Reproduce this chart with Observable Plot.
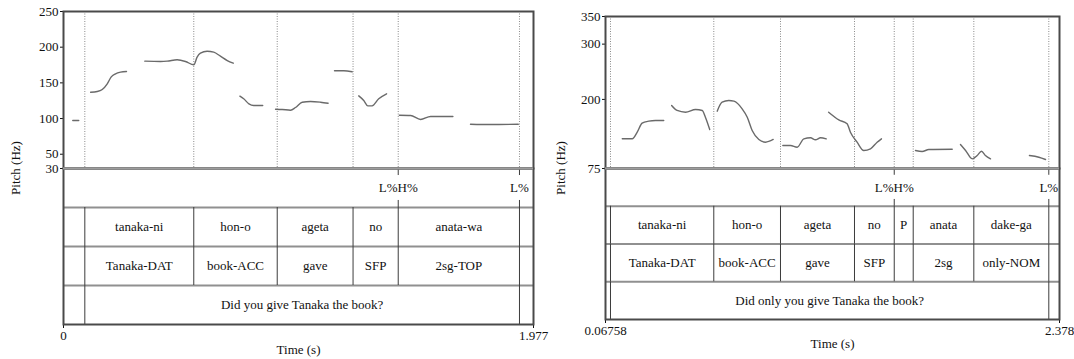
<!DOCTYPE html>
<html><head><meta charset="utf-8">
<script src="https://cdn.jsdelivr.net/npm/d3@7"></script>
<script src="https://cdn.jsdelivr.net/npm/@observablehq/plot@0.6"></script>
<style>
body{margin:0;background:#fff;}
#wrap{position:relative;width:1074px;height:359px;overflow:hidden;font-family:"Liberation Serif",serif;}
.panel{position:absolute;top:0;height:359px;}
.panel svg{position:absolute;left:0;}
.ylab{position:absolute;width:120px;height:16px;line-height:16px;text-align:center;font-size:13px;transform:rotate(-90deg);color:#111;white-space:nowrap;}
</style></head><body><div id="wrap"></div>
<script>
// ---------- LEFT PANEL DATA ----------
const leftXDomain = [0, 1.977];
const leftXTickLabels = ["0", "1.977"];
const leftYDomain = [30, 250];
const leftYTicks = [30, 50, 100, 150, 200, 250];
const leftBounds = [0.0897, 0.548, 0.899, 1.218, 1.408, 1.918];
const leftWords = ["tanaka-ni", "hon-o", "ageta", "no", "anata-wa"];
const leftGloss = ["Tanaka-DAT", "book-ACC", "gave", "SFP", "2sg-TOP"];
const leftTransBounds = [0.0897, 1.918];
const leftTrans = "Did you give Tanaka the book?";
const leftTonePoints = [1.408, 1.918];
const leftToneLabels = ["L%H%", "L%"];
const leftPitch = [
  [[0.039,97.3],[0.064,97.3]],
  [[0.114,136.9],[0.142,137.9],[0.163,140.7],[0.184,148.7],[0.200,158],[0.219,162.7],[0.240,165],[0.265,165.9]],
  [[0.342,180.4],[0.408,180],[0.436,180.4],[0.478,182.3],[0.513,180],[0.548,175.3],[0.562,186],[0.576,191.6],[0.604,194.4],[0.632,193],[0.660,187.4],[0.689,181.3],[0.714,177.6]],
  [[0.742,131.3],[0.758,127.7],[0.780,120.6],[0.800,118.3],[0.838,118.3]],
  [[0.892,113.1],[0.920,112.7],[0.955,111.7],[0.976,115.5],[1.004,122.9],[1.039,123.9],[1.081,122.9],[1.113,121.5]],
  [[1.140,166.9],[1.179,166.9],[1.214,165.5]],
  [[1.242,131.8],[1.263,125.3],[1.280,117.8],[1.298,117.8],[1.326,127.7],[1.359,134.7]],
  [[1.413,104.7],[1.460,104.3],[1.502,98.7],[1.544,102.9],[1.638,102.9]],
  [[1.712,92.1],[1.796,91.6],[1.913,92.1]]
];

// ---------- RIGHT PANEL DATA ----------
const rightXDomain = [0.06758, 2.378];
const rightXTickLabels = ["0.06758", "2.378"];
const rightYDomain = [75, 350];
const rightYTicks = [75, 200, 300, 350];
const rightBounds = [0.0930, 0.6187, 0.9581, 1.3347, 1.537, 1.6335, 1.942, 2.3236];
const rightWords = ["tanaka-ni", "hon-o", "ageta", "no", "P", "anata", "dake-ga"];
const rightGloss = ["Tanaka-DAT", "book-ACC", "gave", "SFP", "", "2sg", "only-NOM"];
const rightTransBounds = [0.0930, 2.3236];
const rightTrans = "Did only you give Tanaka the book?";
const rightTonePoints = [1.537, 2.3236];
const rightToneLabels = ["L%H%", "L%"];
const rightPitch = [
  [[0.153,128.7],[0.204,128.7],[0.229,140.7],[0.254,157],[0.288,160.6],[0.322,161.8],[0.364,161.8]],
  [[0.404,189],[0.432,180],[0.475,176.9],[0.526,181.7],[0.560,180],[0.576,167.8],[0.598,145.5]],
  [[0.636,178.7],[0.661,195],[0.695,198],[0.721,196.8],[0.763,183],[0.789,167.8],[0.814,143.7],[0.848,127.5],[0.882,122.6],[0.921,127.5]],
  [[0.970,116.6],[1.009,116.6],[1.043,113.5],[1.077,128.7],[1.111,130.5],[1.136,126.9],[1.162,130.5],[1.191,128.7]],
  [[1.203,176.9],[1.255,163],[1.297,155.8],[1.314,140.7],[1.348,122.6],[1.382,107.6],[1.416,110.6],[1.450,122.6],[1.472,128.7]],
  [[1.645,107.6],[1.679,105.7],[1.713,109.4],[1.832,109.9]],
  [[1.874,118.4],[1.900,107.6],[1.934,92.5],[1.959,98.5],[1.981,106.3],[2.001,98.5],[2.027,92.5]],
  [[2.225,98.5],[2.273,95.4],[2.307,91.3]]
];

const xAxisTitle = "Time (s)";
const yAxisTitle = "Pitch (Hz)";

// ---------- DRAWING ----------
const wrap = document.getElementById("wrap");
const baseStyle = {fontFamily: '"Liberation Serif", serif', fontSize: "13px", background: "transparent", color: "#111", overflow: "visible"};

function drawPanel(p) {
  const div = document.createElement("div");
  div.className = "panel";
  div.style.left = p.left + "px";
  div.style.width = p.width + "px";
  wrap.appendChild(div);

  const pitchData = p.pitch.flatMap((seg, s) => seg.map(([t, hz]) => ({t, hz, s})));
  const pitch = Plot.plot({
    width: p.width, height: 168,
    marginLeft: p.ml, marginRight: p.mr, marginTop: p.mt, marginBottom: 0,
    style: baseStyle,
    x: {domain: p.xDomain, axis: null},
    y: {domain: p.yDomain, ticks: p.yTicks, tickSize: 3, tickPadding: 2, label: null},
    marks: [
      Plot.ruleX(p.bounds, {stroke: "#8a8a8a", strokeWidth: 1, strokeDasharray: "1,1.5"}),
      Plot.line(pitchData, {x: "t", y: "hz", z: "s", stroke: "#6a6a6a", strokeWidth: 1.4, curve: "monotone-x"}),
      Plot.frame({stroke: "#4a4a4a", strokeWidth: 2}),
      Plot.ruleY([p.yDomain[0]], {stroke: "#9c9c9c", strokeWidth: 2})
    ]
  });
  pitch.style.top = "0px";
  div.appendChild(pitch);

  // tier rows: 0 tone, 1 words, 2 gloss, 3 translation
  const boundRows = [];
  p.bounds.forEach(t => { boundRows.push({t, tier: 1}); boundRows.push({t, tier: 2}); });
  p.transBounds.forEach(t => boundRows.push({t, tier: 3}));
  const labelRows = [];
  p.words.forEach((w, i) => labelRows.push({x: (p.bounds[i] + p.bounds[i + 1]) / 2, tier: 1, label: w}));
  p.gloss.forEach((w, i) => labelRows.push({x: (p.bounds[i] + p.bounds[i + 1]) / 2, tier: 2, label: w}));
  labelRows.push({x: (p.transBounds[0] + p.transBounds[1]) / 2, tier: 3, label: p.trans});
  p.tones.forEach((t, i) => labelRows.push({x: t, tier: 0, label: p.toneLabels[i]}));
  const tickMap = new Map(p.xDomain.map((d, i) => [d, p.xTickLabels[i]]));

  const tiers = Plot.plot({
    width: p.width, height: 191,
    marginLeft: p.ml, marginRight: p.mr, marginTop: 0, marginBottom: p.mb,
    style: baseStyle,
    x: {domain: p.xDomain, ticks: p.xDomain, tickFormat: d => tickMap.get(d), tickSize: 4, tickPadding: p.tp, label: null},
    y: {domain: [0, 4], reverse: true, axis: null},
    marks: [
      Plot.ruleY([1, 2, 3], {stroke: "#909090", strokeWidth: 2}),
      Plot.ruleX(boundRows, {x: "t", y1: "tier", y2: d => d.tier + 1, stroke: "#3c3c3c", strokeWidth: 1}),
      Plot.ruleX(p.tones, {x: d => d, y1: 0, y2: 0.18, stroke: "#3c3c3c", strokeWidth: 1}),
      Plot.ruleX(p.tones, {x: d => d, y1: 0.82, y2: 1, stroke: "#3c3c3c", strokeWidth: 1}),
      Plot.frame({stroke: "#4a4a4a", strokeWidth: 2}),
      Plot.ruleY([0], {stroke: "#9c9c9c", strokeWidth: 2}),
      Plot.text(labelRows, {x: "x", y: d => d.tier + 0.5, text: "label", fontSize: 13, fill: "#111"}),
      Plot.text([xAxisTitle], {frameAnchor: "bottom", dy: p.xlabDy, text: d => d, fontSize: 13, fill: "#111"})
    ]
  });
  tiers.style.top = "168px";
  div.appendChild(tiers);

  const yl = document.createElement("div");
  yl.className = "ylab";
  yl.textContent = yAxisTitle;
  yl.style.left = (p.ylabX - 60) + "px";
  yl.style.top = (167.5 - 8) + "px";
  div.appendChild(yl);
}

drawPanel({
  left: 0, width: 545, ml: 63, mr: 12, mt: 11, mb: 35, tp: 2.5, xlabDy: 29, ylabX: 16,
  xDomain: leftXDomain, xTickLabels: leftXTickLabels, yDomain: leftYDomain, yTicks: leftYTicks,
  bounds: leftBounds, words: leftWords, gloss: leftGloss, transBounds: leftTransBounds, trans: leftTrans,
  tones: leftTonePoints, toneLabels: leftToneLabels, pitch: leftPitch
});
drawPanel({
  left: 540, width: 534, ml: 65, mr: 15, mt: 16, mb: 40, tp: 2, xlabDy: 28, ylabX: 21,
  xDomain: rightXDomain, xTickLabels: rightXTickLabels, yDomain: rightYDomain, yTicks: rightYTicks,
  bounds: rightBounds, words: rightWords, gloss: rightGloss, transBounds: rightTransBounds, trans: rightTrans,
  tones: rightTonePoints, toneLabels: rightToneLabels, pitch: rightPitch
});
</script>
</body></html>
